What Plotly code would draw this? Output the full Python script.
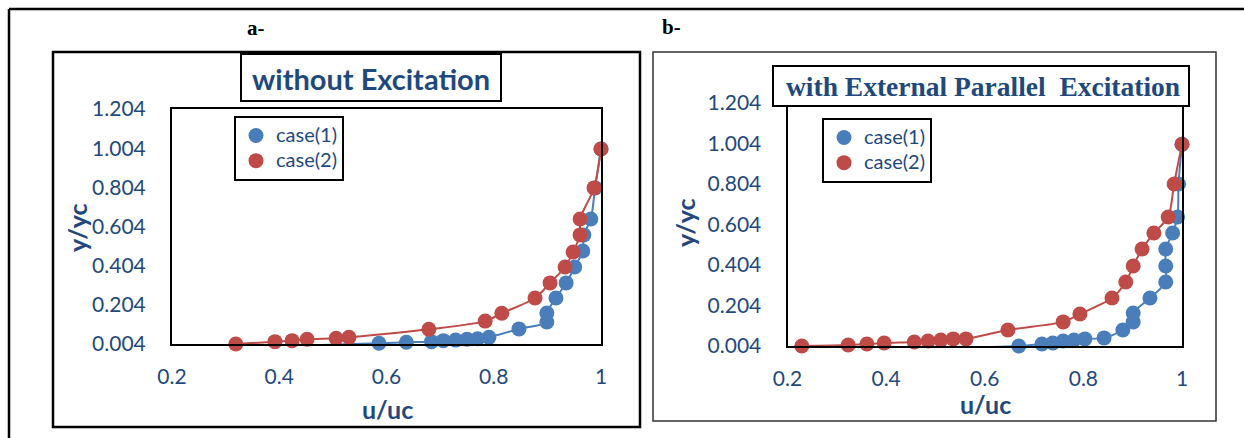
import plotly.graph_objects as go

# ---------------- data ----------------
a_case1_x = [0.432, 0.586, 0.637, 0.684, 0.706, 0.729, 0.750, 0.770, 0.791, 0.847,
             0.899, 0.899, 0.916, 0.935, 0.951, 0.966, 0.968, 0.981, 0.989, 1.0]
a_case1_y = [-0.005, 0.008, 0.013, 0.016, 0.021, 0.024, 0.028, 0.031, 0.038, 0.081,
             0.116, 0.162, 0.239, 0.316, 0.397, 0.479, 0.561, 0.642, 0.801, 1.0]
a_case2_x = [0.319, 0.392, 0.424, 0.452, 0.506, 0.530, 0.679, 0.784, 0.815, 0.877,
             0.905, 0.933, 0.948, 0.961, 0.961, 0.987, 1.0]
a_case2_y = [0.004, 0.016, 0.021, 0.028, 0.033, 0.038, 0.079, 0.121, 0.161, 0.239,
             0.316, 0.397, 0.474, 0.561, 0.642, 0.801, 1.0]

b_case1_x = [0.566, 0.669, 0.716, 0.738, 0.759, 0.781, 0.803, 0.842, 0.880, 0.901,
             0.901, 0.935, 0.967, 0.967, 0.967, 0.981, 0.991, 0.993, 1.0]
b_case1_y = [-0.004, 0.004, 0.014, 0.019, 0.029, 0.034, 0.039, 0.044, 0.083, 0.123,
             0.167, 0.241, 0.320, 0.399, 0.483, 0.562, 0.641, 0.804, 1.0]
b_case2_x = [0.229, 0.323, 0.361, 0.396, 0.457, 0.485, 0.511, 0.536, 0.562, 0.647,
             0.759, 0.793, 0.858, 0.886, 0.901, 0.919, 0.943, 0.972, 0.984, 1.0]
b_case2_y = [0.004, 0.009, 0.014, 0.019, 0.024, 0.029, 0.034, 0.039, 0.039, 0.083,
             0.123, 0.162, 0.241, 0.320, 0.399, 0.483, 0.562, 0.641, 0.804, 1.0]

series_names = ["case(1)", "case(2)"]
x_tick_vals = [0.2, 0.4, 0.6, 0.8, 1.0]
x_tick_text = ["0.2", "0.4", "0.6", "0.8", "1"]
y_tick_vals = [0.004, 0.204, 0.404, 0.604, 0.804, 1.004, 1.204]
y_tick_text = ["0.004", "0.204", "0.404", "0.604", "0.804", "1.004", "1.204"]
title_a = "without Excitation"
title_b = "with External Parallel\u00a0 Excitation"

# ---------------- styling ----------------
W, H = 1244, 438
BLUE = "#4A7EBB"
RED = "#BE4B48"
TXT = "#1F497D"
SANS = "Lato"
SERIF = "Liberation Serif"


def px(x):
    return x / W


def py(y):
    return 1 - y / H


fig = go.Figure()


def legname(n):
    return "<span style='font-size:20px'>" + n + "</span>"


def add_series(xs, ys, color, name, xa, ya, legend, show):
    fig.add_trace(go.Scatter(x=xs, y=ys, mode="lines", line=dict(color=color, width=2, shape="spline", smoothing=0.8),
                             xaxis=xa, yaxis=ya, showlegend=False, hoverinfo="skip", cliponaxis=False))
    fig.add_trace(go.Scatter(x=xs, y=ys, mode="markers", name=legname(name),
                             marker=dict(color=color, size=15, line=dict(width=0)),
                             xaxis=xa, yaxis=ya, legend=legend, showlegend=show, cliponaxis=False))


add_series(a_case1_x, a_case1_y, BLUE, series_names[0], "x", "y", "legend", True)
add_series(a_case2_x, a_case2_y, RED, series_names[1], "x", "y", "legend", True)
add_series(b_case1_x, b_case1_y, BLUE, series_names[0], "x2", "y2", "legend2", True)
add_series(b_case2_x, b_case2_y, RED, series_names[1], "x2", "y2", "legend2", True)

tickfont = dict(family=SANS, size=21, color=TXT)
xcommon = dict(range=[0.2, 1.0], tickvals=x_tick_vals, ticktext=x_tick_text, showgrid=False, zeroline=False,
               showline=True, linecolor="black", linewidth=2, mirror=True, ticks="", tickfont=tickfont,
               ticklabelstandoff=13, automargin=False)
ycommon = dict(range=[0.004, 1.204], tickvals=y_tick_vals, ticktext=y_tick_text, showgrid=False, zeroline=False,
               showline=True, linecolor="black", linewidth=2, mirror=True, ticks="", tickfont=tickfont,
               ticklabelstandoff=20, automargin=False)

legfont = dict(family=SANS, size=17, color=TXT)
fig.update_layout(
    width=W, height=H, margin=dict(l=0, r=0, t=0, b=0, pad=0, autoexpand=False),
    paper_bgcolor="white", plot_bgcolor="white",
    xaxis=dict(domain=[px(172), px(601)], anchor="y", **xcommon),
    yaxis=dict(domain=[py(344), py(109)], anchor="x", **ycommon),
    xaxis2=dict(domain=[px(787.5), px(1182)], anchor="y2", **xcommon),
    yaxis2=dict(domain=[py(346), py(103)], anchor="x2", **ycommon),
    legend=dict(x=px(234), y=py(116), xanchor="left", yanchor="top", bordercolor="black", borderwidth=2,
                bgcolor="white", font=legfont, itemwidth=30, tracegroupgap=0),
    legend2=dict(x=px(822), y=py(118), xanchor="left", yanchor="top", bordercolor="black", borderwidth=2,
                 bgcolor="white", font=legfont, itemwidth=30, tracegroupgap=0),
    showlegend=True,
)

# frames
shapes = [
    dict(type="line", x0=px(9), x1=px(1244), y0=py(9), y1=py(9), line=dict(color="black", width=2.5)),
    dict(type="line", x0=px(9), x1=px(9), y0=py(9), y1=py(438), line=dict(color="black", width=2.5)),
    dict(type="rect", x0=px(53), x1=px(640), y0=py(52), y1=py(427), line=dict(color="black", width=2.5)),
    dict(type="rect", x0=px(653), x1=px(1216), y0=py(52), y1=py(421), line=dict(color="#333333", width=1.5)),
    dict(type="rect", x0=px(241), x1=px(501), y0=py(54), y1=py(101), line=dict(color="black", width=2),
         fillcolor="white"),
    dict(type="rect", x0=px(773), x1=px(1189), y0=py(66), y1=py(106), line=dict(color="black", width=2),
         fillcolor="white"),
]
for s in shapes:
    s.update(xref="paper", yref="paper", layer="above")
fig.update_layout(shapes=shapes)


def ann(text, x, y, font, angle=0):
    fig.add_annotation(text=text, x=px(x), y=py(y), xref="paper", yref="paper", xanchor="center",
                       yanchor="middle", showarrow=False, font=font, textangle=angle)


ann("<b>a-</b>", 256, 28, dict(family=SERIF, size=21, color="black"))
ann("<b>b-</b>", 671, 27, dict(family=SERIF, size=21, color="black"))
ann("<b>" + title_a + "</b>", 371, 78, dict(family=SANS, size=29, color=TXT))
ann("<b>" + title_b + "</b>", 983, 86, dict(family=SERIF, size=27.5, color=TXT))
ann("<b>u/uc</b>", 387, 409, dict(family=SANS, size=25, color=TXT))
ann("<b>y/yc</b>", 77, 228, dict(family=SANS, size=25, color=TXT), angle=-90)
ann("<b>u/uc</b>", 985, 404, dict(family=SANS, size=25, color=TXT))
ann("<b>y/yc</b>", 685, 223, dict(family=SANS, size=25, color=TXT), angle=-90)

fig.write_html("out.html",
               post_script="document.body.style.margin='0';document.body.style.overflow='hidden';")
